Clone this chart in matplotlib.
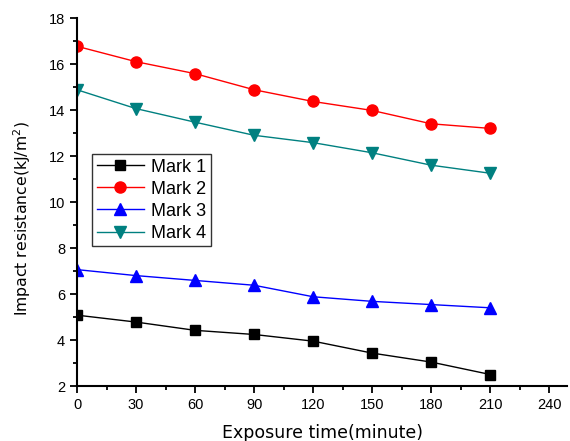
import matplotlib
matplotlib.use("Agg")
import matplotlib.pyplot as plt
from matplotlib.ticker import MultipleLocator

plt.rcParams['font.family'] = ['Liberation Sans', 'DejaVu Sans']
plt.rcParams['mathtext.fontset'] = 'dejavusans'

# exposure time in minutes
time = [0, 30, 60, 90, 120, 150, 180, 210]

mark1 = [5.08, 4.78, 4.42, 4.24, 3.95, 3.43, 3.04, 2.50]
mark2 = [16.77, 16.10, 15.58, 14.88, 14.37, 13.98, 13.40, 13.20]
mark3 = [7.06, 6.80, 6.59, 6.38, 5.88, 5.68, 5.54, 5.40]
mark4 = [14.88, 14.06, 13.47, 12.90, 12.58, 12.14, 11.60, 11.25]

labels = ['Mark 1', 'Mark 2', 'Mark 3', 'Mark 4']

fig = plt.figure(figsize=(5.7, 4.41), dpi=100)
ax = fig.add_axes([77 / 570, 1 - 386 / 441, 490 / 570, 368 / 441])

ax.plot(time, mark1, color='black', marker='s', markersize=7, lw=1, label=labels[0])
ax.plot(time, mark2, color='red', marker='o', markersize=8, lw=1, label=labels[1])
ax.plot(time, mark3, color='blue', marker='^', markersize=8, lw=1, label=labels[2])
ax.plot(time, mark4, color='#008080', marker='v', markersize=8, lw=1, label=labels[3])

ax.set_xlim(0, 249)
ax.set_ylim(2, 18)
ax.xaxis.set_major_locator(MultipleLocator(30))
ax.xaxis.set_minor_locator(MultipleLocator(15))
ax.yaxis.set_major_locator(MultipleLocator(2))
ax.yaxis.set_minor_locator(MultipleLocator(1))

for side in ['top', 'right']:
    ax.spines[side].set_visible(False)
for side in ['left', 'bottom']:
    ax.spines[side].set_linewidth(1.5)
ax.tick_params(which='major', direction='out', length=5, width=1.3, labelsize=10.5)
ax.tick_params(which='minor', direction='out', length=3, width=1.3)

# the original labels use a wide sans face
ax.set_xlabel('Exposure time(minute)', fontsize=12.5, labelpad=9,
              family='DejaVu Sans')
ax.set_ylabel(r'Impact resistance(kJ/m$^2$)', fontsize=11.3,
              family='DejaVu Sans')
ax.yaxis.set_label_coords(-0.09, 0.454)

leg = ax.legend(loc='upper left', bbox_to_anchor=(0.031, 0.63), fontsize=13,
                frameon=True, fancybox=False, handlelength=2.6,
                borderpad=0.25, labelspacing=0.28, handletextpad=0.4,
                borderaxespad=0)
leg.get_frame().set_edgecolor('black')
leg.get_frame().set_linewidth(1)

fig.savefig('out.png', dpi=100)
